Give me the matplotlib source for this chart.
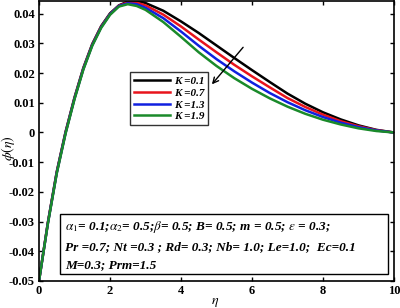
import matplotlib
matplotlib.use("Agg")
import matplotlib.pyplot as plt
from matplotlib.patches import Rectangle

eta = [0, 0.25, 0.5, 0.75, 1.0, 1.25, 1.5, 1.75, 2.0, 2.25, 2.5, 2.75, 3.0, 3.5,
       4.0, 4.5, 5.0, 5.5, 6.0, 6.5, 7.0, 7.5, 8.0, 8.5, 9.0, 9.5, 10.0]
phi_k01 = [-0.050, -0.0303, -0.0132, 0.0003, 0.0118, 0.0218, 0.0298, 0.0358, 0.0401, 0.0428, 0.0441,
           0.0443, 0.0436, 0.0410, 0.0374, 0.0335, 0.0293, 0.0251, 0.0210, 0.0170, 0.0131, 0.0097,
           0.0068, 0.0044, 0.0024, 0.0009, 0.0]
phi_k07 = [-0.050, -0.0304, -0.0134, 0.0001, 0.0116, 0.0216, 0.0296, 0.0356, 0.0399, 0.0427, 0.0438,
           0.0437, 0.0428, 0.0397, 0.0357, 0.0313, 0.0270, 0.0228, 0.0189, 0.0152, 0.0116, 0.0086,
           0.0060, 0.0038, 0.0021, 0.0008, 0.0]
phi_k13 = [-0.050, -0.0306, -0.0136, -0.0001, 0.0114, 0.0214, 0.0294, 0.0354, 0.0398, 0.0426, 0.0435,
           0.0432, 0.0420, 0.0385, 0.0340, 0.0292, 0.0247, 0.0206, 0.0168, 0.0133, 0.0102, 0.0075,
           0.0052, 0.0033, 0.0018, 0.0007, 0.0]
phi_k19 = [-0.050, -0.0307, -0.0138, -0.0003, 0.0112, 0.0212, 0.0292, 0.0352, 0.0396, 0.0424, 0.0432,
           0.0426, 0.0413, 0.0372, 0.0322, 0.0270, 0.0224, 0.0183, 0.0147, 0.0115, 0.0087, 0.0063,
           0.0043, 0.0027, 0.0014, 0.0005, 0.0]

series = [phi_k01, phi_k07, phi_k13, phi_k19]
labels = ["K =0.1", "K =0.7", "K =1.3", "K =1.9"]
colors = ["black", "#e8141c", "#1020e0", "#1a8a2a"]

xticks = [0, 2, 4, 6, 8, 10]
yticks = [-0.05, -0.04, -0.03, -0.02, -0.01, 0, 0.01, 0.02, 0.03, 0.04]
ytick_labels = ["-0.05", "-0.04", "-0.03", "-0.02", "-0.01", "0", "0.01", "0.02", "0.03", "0.04"]

plt.rcParams['font.family'] = ['Liberation Serif', 'DejaVu Serif']
plt.rcParams['mathtext.fontset'] = 'stix'

fig = plt.figure(figsize=(4.0, 3.08), dpi=100)
ax = fig.add_axes([0.0975, 0.0877, 0.8875, 0.9093])

for y, lab, c in zip(series, labels, colors):
    ax.plot(eta, y, color=c, lw=1.8, label=lab, solid_joinstyle='round')

ax.set_xlim(0, 10)
ax.set_ylim(-0.05, 0.0443)
ax.set_xticks(xticks)
ax.set_xticklabels([str(t) for t in xticks], fontsize=9, fontweight='bold')
ax.set_yticks(yticks)
ax.set_yticklabels(ytick_labels, fontsize=9, fontweight='bold')
ax.tick_params(direction='in', top=True, right=True, length=3, width=1, pad=3)
for s in ax.spines.values():
    s.set_linewidth(1.2)

ax.set_xlabel(r"$\eta$", fontsize=10)
ax.xaxis.set_label_coords(0.496, -0.052)
ax.set_ylabel(r"$\phi(\eta)$", fontsize=10)
ax.yaxis.set_label_coords(-0.062, 0.475)

leg = ax.legend(loc='upper left', bbox_to_anchor=(0.256, 0.745), frameon=True, fancybox=False,
                edgecolor='black', prop={'weight': 'bold', 'style': 'italic', 'size': 8},
                handlelength=3.3, handletextpad=0.3, labelspacing=0.18, borderpad=0.35,
                borderaxespad=0)
leg.get_frame().set_linewidth(1.0)

ax.annotate("", xy=(4.82, 0.0155), xytext=(5.8, 0.0294),
            arrowprops=dict(arrowstyle='->', color='black', lw=1.0))

ax.add_patch(Rectangle((0.059, 0.025), 0.924, 0.214, transform=ax.transAxes,
                       facecolor='white', edgecolor='black', lw=1.0, zorder=5))
lines = [r"$\alpha_{\mathit{1}}$= 0.1;$\alpha_{\mathit{2}}$= 0.5;$\beta$= 0.5; B= 0.5; m = 0.5; $\epsilon$ = 0.3;",
         "Pr =0.7; Nt =0.3 ; Rd= 0.3; Nb= 1.0; Le=1.0;  Ec=0.1",
         "M=0.3; Prm=1.5"]
for txt, yy in zip(lines, [0.193, 0.121, 0.057]):
    ax.text(0.073, yy, txt, transform=ax.transAxes, fontsize=9.5, fontweight='bold',
            fontstyle='italic', va='center', ha='left', zorder=6)

fig.savefig("out.png", dpi=100)
